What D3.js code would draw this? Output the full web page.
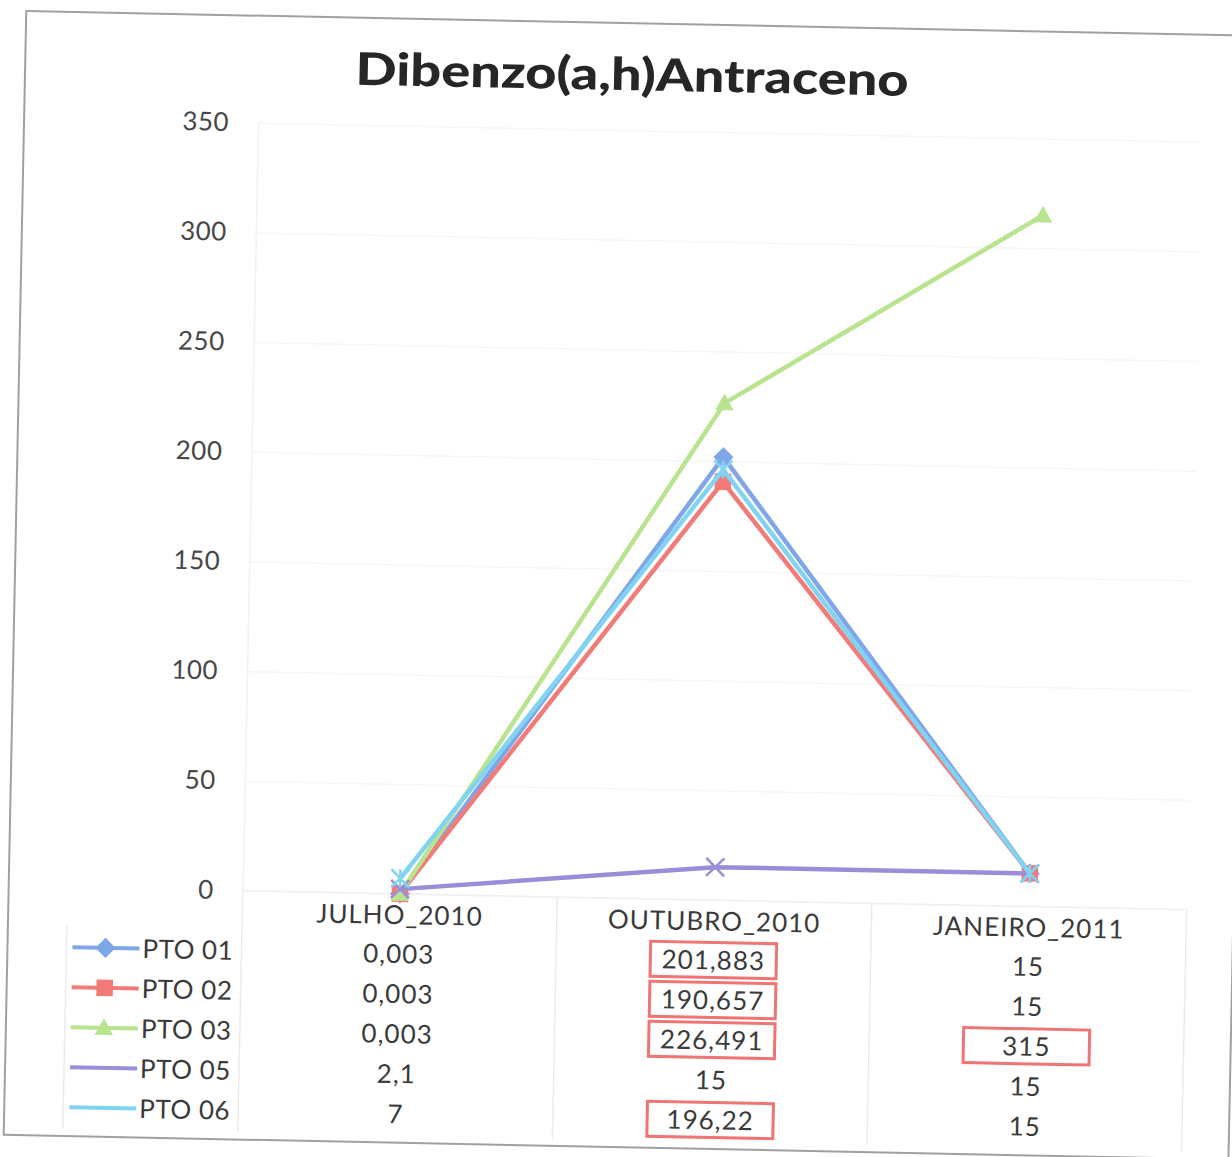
<!DOCTYPE html>
<html>
<head>
<meta charset="utf-8">
<script src="https://cdn.jsdelivr.net/npm/d3@7"></script>
<style>
  html, body { margin: 0; padding: 0; background: #ffffff; }
  svg { display: block; }
</style>
</head>
<body>
<script>
// Campaign data: Dibenzo(a,h)Antraceno per sampling point
const categories = ["JULHO_2010", "OUTUBRO_2010", "JANEIRO_2011"];
const seriesNames = ["PTO 01", "PTO 02", "PTO 03", "PTO 05", "PTO 06"];
const pto01 = [0.003, 201.883, 15];
const pto02 = [0.003, 190.657, 15];
const pto03 = [0.003, 226.491, 315];
const pto05 = [2.1, 15, 15];
const pto06 = [7, 196.22, 15];
const yTicks = [0, 50, 100, 150, 200, 250, 300, 350];
// values above this limit are boxed in the table
const limite = 100;

const seriesValues = [pto01, pto02, pto03, pto05, pto06];
const seriesColors = ["#7ea6e8", "#f27b78", "#b9e38f", "#9b8dd8", "#80d4f2"];
const seriesMarkers = ["diamond", "square", "triangle", "times", "asterisk"];

const W = 1232, H = 1157;
const plot = { left: 249, right: 1193, top: 130, bottom: 898 };
const tableRow0 = 958, rowStep = 40, headerY = 919;
const fontFamily = "Lato, 'Open Sans', 'DejaVu Sans', sans-serif";

const svg = d3.select("body").append("svg")
  .attr("width", W).attr("height", H);
svg.append("rect").attr("width", W).attr("height", H).attr("fill", "#ffffff");

// the whole sheet sits slightly tilted
const g = svg.append("g").attr("transform", "rotate(1.15, 616, 578)");

// chart frame
g.append("rect")
  .attr("x", 15).attr("y", 23).attr("width", 1225).attr("height", 1124)
  .attr("fill", "none").attr("stroke", "#a0a0a0").attr("stroke-width", 2);

const x = d3.scaleBand().domain(categories).range([plot.left, plot.right]);
const cx = c => x(c) + x.bandwidth() / 2;
const y = d3.scaleLinear().domain([0, 350]).range([plot.bottom, plot.top]);

// gridlines (very faint)
g.append("g")
  .attr("transform", `translate(${plot.left},0)`)
  .call(d3.axisLeft(y).tickValues(yTicks).tickSize(-(plot.right - plot.left)).tickFormat(""))
  .call(a => a.select(".domain").remove())
  .call(a => a.selectAll("line").attr("stroke", "#f6f6f6").attr("stroke-width", 1.5));

// value axis labels
g.append("g")
  .attr("transform", `translate(${plot.left},0)`)
  .call(d3.axisLeft(y).tickValues(yTicks).tickSize(0).tickPadding(29))
  .call(a => a.select(".domain").attr("stroke", "#f2f2f2").attr("stroke-width", 1.5))
  .call(a => a.selectAll("text")
    .attr("font-family", fontFamily).attr("font-size", 26)
    .attr("fill", "#474747").attr("letter-spacing", 0.5));

// category axis line
g.append("line")
  .attr("x1", plot.left).attr("x2", plot.right)
  .attr("y1", plot.bottom).attr("y2", plot.bottom)
  .attr("stroke", "#f0f0f0").attr("stroke-width", 1.5);

function markerPath(type, size) {
  const s = size / 2;
  switch (type) {
    case "diamond": return `M0,${-s}L${s},0L0,${s}L${-s},0Z`;
    case "square": return `M${-s},${-s}H${s}V${s}H${-s}Z`;
    case "triangle": return `M0,${-s}L${s},${s * 0.8}L${-s},${s * 0.8}Z`;
    case "times": return `M${-s},${-s}L${s},${s}M${s},${-s}L${-s},${s}`;
    case "asterisk": return `M${-s},${-s}L${s},${s}M${s},${-s}L${-s},${s}M0,${-s}V${s}`;
  }
}
const markerSize = { diamond: 18, square: 15, triangle: 16, times: 18, asterisk: 18 };
function drawMarker(sel, type, color) {
  const filled = type === "diamond" || type === "square" || type === "triangle";
  sel.append("path")
    .attr("d", markerPath(type, markerSize[type]))
    .attr("fill", filled ? color : "none")
    .attr("stroke", color)
    .attr("stroke-width", filled ? 1.5 : 2.5);
}

// series lines and markers
const line = d3.line().x((d, i) => cx(categories[i])).y(d => y(d));
seriesValues.forEach((vals, si) => {
  const sg = g.append("g");
  sg.append("path")
    .attr("d", line(vals))
    .attr("fill", "none")
    .attr("stroke", seriesColors[si])
    .attr("stroke-width", 4.5)
    .attr("stroke-linejoin", "round");
  vals.forEach((v, i) => {
    const mg = sg.append("g").attr("transform", `translate(${cx(categories[i])},${y(v)})`);
    drawMarker(mg, seriesMarkers[si], seriesColors[si]);
  });
});

// data table
const tbl = g.append("g");
const tableBottom = 1140;
[plot.left, x(categories[1]), x(categories[2]), plot.right].forEach(vx => {
  tbl.append("line")
    .attr("x1", vx).attr("x2", vx).attr("y1", plot.bottom).attr("y2", tableBottom)
    .attr("stroke", "#ebebeb").attr("stroke-width", 1.5);
});
tbl.append("line")
  .attr("x1", 74).attr("x2", 74).attr("y1", 936).attr("y2", tableBottom)
  .attr("stroke", "#ebebeb").attr("stroke-width", 1.5);

tbl.selectAll("text.hdr").data(categories).join("text")
  .attr("class", "hdr")
  .attr("x", d => cx(d)).attr("y", headerY)
  .attr("text-anchor", "middle").attr("dy", "0.36em")
  .attr("font-family", fontFamily).attr("font-size", 26)
  .attr("letter-spacing", 1)
  .attr("fill", "#3a3a3a")
  .text(d => d);

const fmt = v => String(v).replace(".", ",");

seriesNames.forEach((name, si) => {
  const ry = tableRow0 + si * rowStep;
  // legend key
  const kg = tbl.append("g");
  kg.append("line")
    .attr("x1", 80).attr("x2", 147).attr("y1", ry).attr("y2", ry)
    .attr("stroke", seriesColors[si]).attr("stroke-width", 4);
  if (si < 3) {
    drawMarker(kg.append("g").attr("transform", `translate(113,${ry})`), seriesMarkers[si], seriesColors[si]);
  }
  kg.append("text")
    .attr("x", 150).attr("y", ry).attr("dy", "0.36em")
    .attr("font-family", fontFamily).attr("font-size", 26)
    .attr("letter-spacing", 0.5)
    .attr("fill", "#3a3a3a")
    .text(name);

  seriesValues[si].forEach((v, i) => {
    const tx = cx(categories[i]);
    if (v > limite) {
      tbl.append("rect")
        .attr("x", tx - 63).attr("y", ry - 17.5)
        .attr("width", 126).attr("height", 35)
        .attr("fill", "#ffffff")
        .attr("stroke", "#f07474").attr("stroke-width", 3);
    }
    tbl.append("text")
      .attr("x", tx).attr("y", ry).attr("dy", "0.36em")
      .attr("text-anchor", "middle")
      .attr("font-family", fontFamily).attr("font-size", 26)
      .attr("letter-spacing", 1)
      .attr("fill", "#3a3a3a")
      .text(fmt(v));
  });
});

// title
g.append("text")
  .attr("x", 622).attr("y", 90)
  .attr("text-anchor", "middle")
  .attr("font-family", fontFamily).attr("font-weight", 900)
  .attr("font-size", 45)
  .attr("textLength", 553).attr("lengthAdjust", "spacingAndGlyphs")
  .attr("fill", "#262626")
  .text("Dibenzo(a,h)Antraceno");
</script>
</body>
</html>
